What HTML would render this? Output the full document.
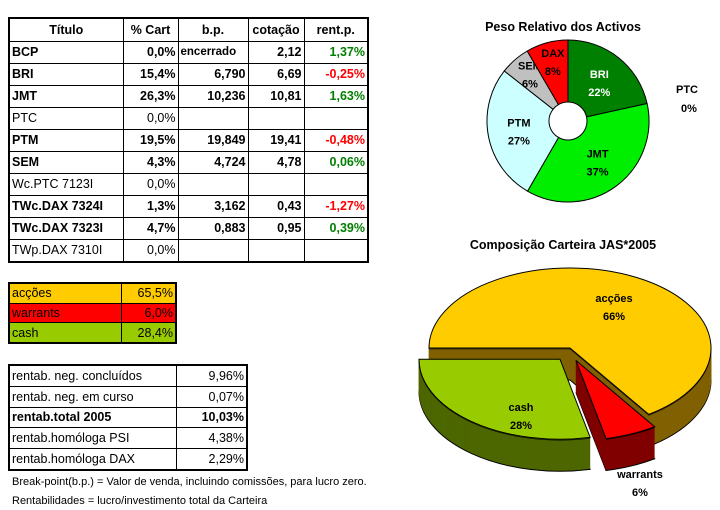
<!DOCTYPE html>
<html><head><meta charset="utf-8">
<style>
body{margin:0;width:720px;height:510px;background:#fff;position:relative;overflow:hidden;font-family:"Liberation Sans",sans-serif;}
table{position:absolute;border-collapse:collapse;border:2px solid #000;}
td{border:1px solid #000;padding:0 2px;font-size:12.5px;white-space:nowrap;overflow:hidden;}
.b{font-weight:bold}
.r{text-align:right}
.c{text-align:center}
.g{color:#008000}
.n{color:#ff0000}
.note{position:absolute;left:12px;font-size:11px;}
</style></head><body>
<table style="left:8px;top:17px;width:361px;height:246px;">
<colgroup><col style="width:114px"><col style="width:55px"><col style="width:70px"><col style="width:56px"><col style="width:64px"></colgroup>
<tr class="b c" style="height:23px"><td>Título</td><td>% Cart</td><td>b.p.</td><td>cotação</td><td>rent.p.</td></tr>
<tr class="b"><td>BCP</td><td class="r">0,0%</td><td style="font-size:11.5px">encerrado</td><td class="r">2,12</td><td class="r g">1,37%</td></tr>
<tr class="b"><td>BRI</td><td class="r">15,4%</td><td class="r">6,790</td><td class="r">6,69</td><td class="r n">-0,25%</td></tr>
<tr class="b"><td>JMT</td><td class="r">26,3%</td><td class="r">10,236</td><td class="r">10,81</td><td class="r g">1,63%</td></tr>
<tr><td>PTC</td><td class="r">0,0%</td><td></td><td></td><td></td></tr>
<tr class="b"><td>PTM</td><td class="r">19,5%</td><td class="r">19,849</td><td class="r">19,41</td><td class="r n">-0,48%</td></tr>
<tr class="b"><td>SEM</td><td class="r">4,3%</td><td class="r">4,724</td><td class="r">4,78</td><td class="r g">0,06%</td></tr>
<tr><td>Wc.PTC 7123I</td><td class="r">0,0%</td><td></td><td></td><td></td></tr>
<tr class="b"><td>TWc.DAX 7324I</td><td class="r">1,3%</td><td class="r">3,162</td><td class="r">0,43</td><td class="r n">-1,27%</td></tr>
<tr class="b"><td>TWc.DAX 7323I</td><td class="r">4,7%</td><td class="r">0,883</td><td class="r">0,95</td><td class="r g">0,39%</td></tr>
<tr><td>TWp.DAX 7310I</td><td class="r">0,0%</td><td></td><td></td><td></td></tr>
</table>

<table style="left:8px;top:282px;width:169px;height:62px;">
<colgroup><col style="width:114px"><col style="width:55px"></colgroup>
<tr style="background:#ffcc00"><td>acções</td><td class="r">65,5%</td></tr>
<tr style="background:#ff0000"><td>warrants</td><td class="r">6,0%</td></tr>
<tr style="background:#99cc00"><td>cash</td><td class="r">28,4%</td></tr>
</table>

<table style="left:8px;top:364px;width:240px;height:107px;">
<colgroup><col style="width:169px"><col style="width:71px"></colgroup>
<tr><td>rentab. neg. concluídos</td><td class="r">9,96%</td></tr>
<tr><td>rentab. neg. em curso</td><td class="r">0,07%</td></tr>
<tr class="b"><td>rentab.total 2005</td><td class="r">10,03%</td></tr>
<tr><td>rentab.homóloga PSI</td><td class="r">4,38%</td></tr>
<tr><td>rentab.homóloga DAX</td><td class="r">2,29%</td></tr>
</table>
<div class="note" style="top:476px">Break-point(b.p.) = Valor de venda, incluindo comissões, para lucro zero.</div>
<div class="note" style="top:495px">Rentabilidades = lucro/investimento total da Carteira</div>

<svg id="charts" width="720" height="510" style="position:absolute;left:0;top:0"></svg>
<script>
const donutLabels=["BRI","JMT","PTM","SEM","DAX","PTC"];
const donutValues=[15.4,26.3,19.5,4.3,6.0,0.0];
const pieLabels=["acções","warrants","cash"];
const pieValues=[65.5,6.0,28.4];

const NS="http://www.w3.org/2000/svg";
const svg=document.getElementById('charts');
function mk(tag,attrs,parent){const e=document.createElementNS(NS,tag);for(const k in attrs)e.setAttribute(k,attrs[k]);(parent||svg).appendChild(e);return e;}
function txt(x,y,s,fill,size){const t=mk('text',{x:x,y:y,'text-anchor':'middle','font-family':'Liberation Sans, sans-serif','font-weight':'bold','font-size':size||11,fill:fill||'#000'});t.textContent=s;return t;}

// Donut
const t1=txt(563,31,"Peso Relativo dos Activos","#000",12.5);


const dCol=["#008000","#00ee00","#ccffff","#c0c0c0","#ff0000","#888"];
const dTxt=["#fff","#000","#000","#000","#000","#000"];
const cx=568,cy=121,R=81,r=19;
const dTotal=donutValues.reduce((a,b)=>a+b,0);
let a0=-Math.PI/2;
donutValues.forEach((v,i)=>{
  const frac=v/dTotal, a1=a0+frac*2*Math.PI;
  if(frac>0){
    const large=(a1-a0)>Math.PI?1:0;
    const d=`M${cx+R*Math.cos(a0)},${cy+R*Math.sin(a0)} A${R},${R} 0 ${large} 1 ${cx+R*Math.cos(a1)},${cy+R*Math.sin(a1)} L${cx+r*Math.cos(a1)},${cy+r*Math.sin(a1)} A${r},${r} 0 ${large} 0 ${cx+r*Math.cos(a0)},${cy+r*Math.sin(a0)} Z`;
    const p=mk('path',{d:d,fill:dCol[i],stroke:'#000','stroke-width':1});
    
    
    const am=(a0+a1)/2, lr=frac<0.1?58:50;
    const lx=cx+lr*Math.cos(am), ly=cy+lr*Math.sin(am)-(frac<0.1?4:0);
    const l1=txt(lx,ly-4,donutLabels[i],dTxt[i]);
    
    
    const l2=txt(lx,ly+14,Math.round(frac*100)+"%",dTxt[i]);
    
    
  } else {
    const l1=txt(687,93,donutLabels[i]);
    
    
    const l2=txt(689,112,Math.round(frac*100)+"%");
    
    
  }
  a0=a1;
});

// 3D pie
const t2=txt(563,249,"Composição Carteira JAS*2005","#000",12.5);


const pCol=["#ffcc00","#ff0000","#99cc00"], pSide=["#806000","#800000","#4d6600"];
const pcx=570,pcy=348,RX=141,RY=80,DEPTH=32;
const explode=[0,15,16];
const pTotal=pieValues.reduce((a,b)=>a+b,0);
let b0=Math.PI;
const slices=[];
pieValues.forEach((v,i)=>{const b1=b0+v/pTotal*2*Math.PI;slices.push([b0,b1]);b0=b1;});
function sliceD(b0,b1,ox,oy){
  const large=(b1-b0)>Math.PI?1:0;
  return `M${ox},${oy} L${ox+RX*Math.cos(b0)},${oy+RY*Math.sin(b0)} A${RX},${RY} 0 ${large} 1 ${ox+RX*Math.cos(b1)},${oy+RY*Math.sin(b1)} Z`;
}
const offs=slices.map(([s,e],i)=>{const m=(s+e)/2;return [pcx+explode[i]*Math.cos(m),pcy+explode[i]*0.9*Math.sin(m)];});
const gSide=mk('g',{});
for(let k=DEPTH;k>=1;k--){
  slices.forEach(([s,e],i)=>{
    mk('path',{d:sliceD(s,e,offs[i][0],offs[i][1]+k),fill:pSide[i],stroke:(k===DEPTH||k===1)?'#000':pSide[i],'stroke-width':(k===DEPTH)?1:0.5},gSide);
  });
}


slices.forEach(([s,e],i)=>{
  const p=mk('path',{d:sliceD(s,e,offs[i][0],offs[i][1]),fill:pCol[i],stroke:'#000','stroke-width':1});
  
  
});
const pLab=[[614,302],[640,478],[521,411]];
pieValues.forEach((v,i)=>{
  const l1=txt(pLab[i][0],pLab[i][1],pieLabels[i]);
  
  
  const l2=txt(pLab[i][0],pLab[i][1]+18,Math.round(v/pTotal*100)+"%");
  
  
});
</script>
</body></html>
